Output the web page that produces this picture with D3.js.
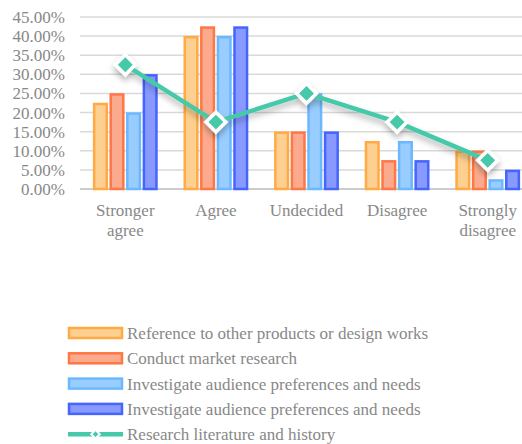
<!DOCTYPE html>
<html>
<head>
<meta charset="utf-8">
<script src="https://cdn.jsdelivr.net/npm/d3@7"></script>
<style>
  body { margin: 0; background: #fff; overflow: hidden; }
</style>
</head>
<body>
<div id="chart"></div>
<script>
// Data
const categories = ["Stronger agree", "Agree", "Undecided", "Disagree", "Strongly disagree"];
const categoryLines = [["Stronger", "agree"], ["Agree"], ["Undecided"], ["Disagree"], ["Strongly", "disagree"]];
const seriesNames = [
  "Reference to other products or design works",
  "Conduct market research",
  "Investigate audience preferences and needs",
  "Investigate audience preferences and needs",
];
const lineName = "Research literature and history";
const refProducts = [22.5, 40, 15, 12.5, 10];
const marketResearch = [25, 42.5, 15, 7.5, 10];
const audienceA = [20, 40, 25, 12.5, 2.5];
const audienceB = [30, 42.5, 15, 7.5, 5];
const literature = [32.5, 17.5, 25, 17.5, 7.5];
const yTicks = [0, 5, 10, 15, 20, 25, 30, 35, 40, 45];

const barSeries = [refProducts, marketResearch, audienceA, audienceB];
const strokes = ["#FFAA44", "#FF7744", "#6BB8FF", "#4466FF"];
const fills = ["#FDCF90", "#FCAA8E", "#99CDFF", "#8899FF"];
const lineColor = "#45C9A8";
const FONT = '"Liberation Serif"';

const W = 522, H = 444;
const margin = { top: 17, right: -11, bottom: 255, left: 80 };
const width = W - margin.left - margin.right;
const height = H - margin.top - margin.bottom;

const svg = d3.select("#chart").append("svg").attr("width", W).attr("height", H);

const defs = svg.append("defs");
const f = defs.append("filter").attr("id", "shadow").attr("x", "-20%").attr("y", "-20%").attr("width", "140%").attr("height", "160%");
f.append("feDropShadow").attr("dx", 0).attr("dy", 4).attr("stdDeviation", 3).attr("flood-color", "#000").attr("flood-opacity", 0.3);

const g = svg.append("g").attr("transform", `translate(${margin.left},${margin.top})`);

const x = d3.scaleBand().domain(categories).range([0, width]).paddingInner(0.29).paddingOuter(0.145);
const xSub = d3.scaleBand().domain(d3.range(barSeries.length)).range([0, x.bandwidth()]).paddingInner(0.12);
const y = d3.scaleLinear().domain([0, 45]).range([height, 0]);

// Grid lines
g.append("g").selectAll("line").data(yTicks).join("line")
  .attr("x1", 0).attr("x2", width)
  .attr("y1", d => y(d)).attr("y2", d => y(d))
  .attr("stroke", d => d === 0 ? "#bbb" : "#d9d9d9").attr("stroke-width", 1.5);

// Y axis labels
g.append("g").selectAll("text").data(yTicks).join("text")
  .attr("x", -15).attr("y", d => y(d)).attr("dy", "0.35em")
  .attr("text-anchor", "end").attr("font-size", 17).attr("fill", "#888")
  .style("font-family", FONT)
  .text(d => d.toFixed(2) + "%");

// Bars
barSeries.forEach((vals, si) => {
  g.append("g").selectAll("rect").data(vals).join("rect")
    .attr("x", (d, i) => x(categories[i]) + xSub(si) + 1)
    .attr("y", d => y(d) + 1)
    .attr("width", xSub.bandwidth() - 2)
    .attr("height", d => height - y(d) - 1)
    .attr("fill", fills[si]).attr("stroke", strokes[si]).attr("stroke-width", 2.5);
});

// Category labels
const catG = g.append("g").selectAll("text").data(categoryLines).join("text")
  .attr("text-anchor", "middle").attr("font-size", 17).attr("fill", "#888")
  .style("font-family", FONT)
  .attr("x", (d, i) => x(categories[i]) + x.bandwidth() / 2)
  .attr("y", height + 27);
catG.selectAll("tspan").data(d => d).join("tspan")
  .attr("x", function () { return d3.select(this.parentNode).attr("x"); })
  .attr("dy", (d, i) => i === 0 ? 0 : 20)
  .text(d => d);

// Line series
const cx = i => x(categories[i]) + x.bandwidth() / 2;
const lineG = g.append("g").attr("filter", "url(#shadow)");
lineG.append("path").datum(literature)
  .attr("fill", "none").attr("stroke", lineColor).attr("stroke-width", 4.5)
  .attr("d", d3.line().x((d, i) => cx(i)).y(d => y(d)));
lineG.selectAll("path.m").data(literature).join("path").attr("class", "m")
  .attr("transform", (d, i) => `translate(${cx(i)},${y(d)}) rotate(45)`)
  .attr("d", "M-7,-7H7V7H-7Z")
  .attr("fill", lineColor).attr("stroke", "#fff").attr("stroke-width", 3.5);

// Legend
const legend = svg.append("g").attr("transform", "translate(68,333)");
const rowH = 25.3;
seriesNames.forEach((name, i) => {
  const r = legend.append("g").attr("transform", `translate(0,${i * rowH})`);
  r.append("rect").attr("x", 1).attr("y", -5).attr("width", 53).attr("height", 10)
    .attr("fill", fills[i]).attr("stroke", strokes[i]).attr("stroke-width", 2.5);
  r.append("text").attr("x", 59).attr("y", 0).attr("dy", "0.35em").attr("font-size", 17)
    .style("font-family", FONT).attr("fill", "#888").text(name);
});
const lr = legend.append("g").attr("transform", `translate(0,${4 * rowH})`);
lr.append("line").attr("x1", 0).attr("x2", 55).attr("y1", 0).attr("y2", 0)
  .attr("stroke", lineColor).attr("stroke-width", 4.5);
lr.append("path").attr("transform", "translate(27.5,0) rotate(45)").attr("d", "M-3,-3H3V3H-3Z")
  .attr("fill", lineColor).attr("stroke", "#fff").attr("stroke-width", 2);
lr.append("text").attr("x", 59).attr("y", 0).attr("dy", "0.35em").attr("font-size", 17)
  .style("font-family", FONT).attr("fill", "#888").text(lineName);
</script>
</body>
</html>
